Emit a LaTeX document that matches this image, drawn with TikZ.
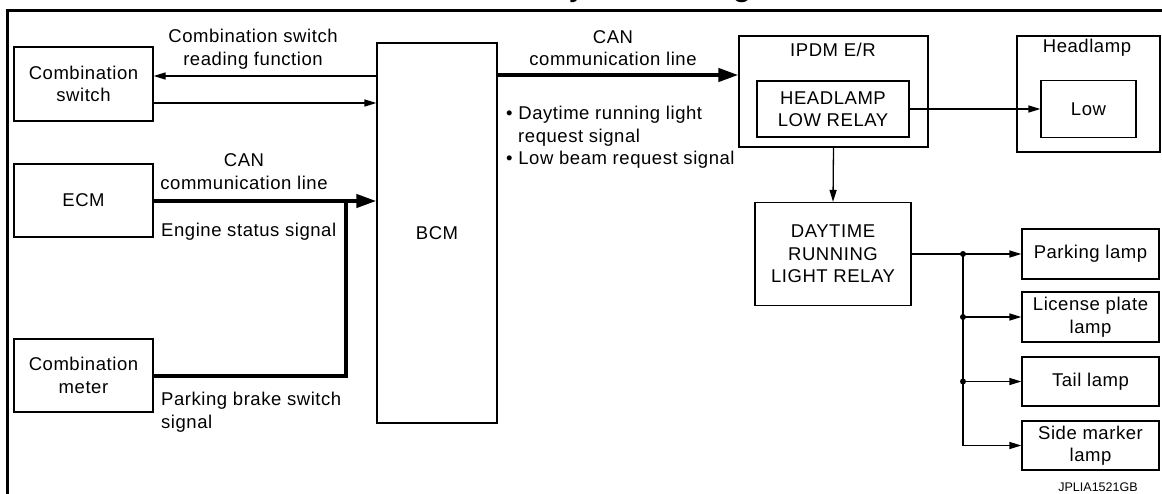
\documentclass[tikz,border=0pt]{standalone}
\usepackage{fontspec}
\setmainfont[LetterSpace=3]{Liberation Sans}
\newfontfamily\plainf{Liberation Sans}
\usetikzlibrary{arrows.meta}
\newcommand{\mfs}{\fontsize{18.5}{22.5}\selectfont}
\begin{document}
\begin{tikzpicture}[x=1pt,y=-1pt,
  box/.style={draw, line width=1.2pt, inner sep=0pt, align=center, font=\mfs},
  lbl/.style={inner sep=0pt, align=center, font=\mfs},
  thinarrow/.style={line width=1.3pt, -{Triangle[length=12pt,width=7pt]}},
  thickarrow/.style={line width=4pt, -{Triangle[length=20pt,width=13pt]}},
  thickline/.style={line width=4pt, line join=miter},
  wire/.style={line width=1.3pt}]
\useasboundingbox (0,0) rectangle (1162,493);
\clip (0,0) rectangle (1162,493);
% frame and cut-off title
\draw[line width=3.2pt] (7.5,495) -- (7.5,10.5) -- (1164,10.5);
\node[anchor=base west, inner sep=0pt, font=\fontsize{34.8}{35}\selectfont] (title) at (545,-4.3) {System Diagram};
% boxes
\node[box, minimum width=139pt, minimum height=74pt] (cs) at (83.5,84) {Combination\\switch};
\node[box, minimum width=139pt, minimum height=73pt] (ecm) at (83.5,200.5) {ECM};
\node[box, minimum width=139pt, minimum height=73pt] (cm) at (83.5,375.5) {Combination\\meter};
\node[box, minimum width=120pt, minimum height=380pt] (bcm) at (437,233) {BCM};
\node[box, minimum width=189pt, minimum height=111pt] (ipdm) at (833.5,91.5) {};
\node[lbl] (ipdmt) at (833,50) {IPDM E/R};
\node[box, minimum width=152pt, minimum height=56pt] (hlr) at (833,109) {HEADLAMP\\LOW RELAY};
\node[box, minimum width=143pt, minimum height=116pt] (hl) at (1088.5,94) {};
\node[lbl] (hlt) at (1087,48) {Headlamp};
\node[box, minimum width=95pt, minimum height=57pt] (low) at (1088.5,109) {Low};
\node[box, minimum width=156pt, minimum height=103pt] (drl) at (833,254) {DAYTIME\\RUNNING\\LIGHT RELAY};
\node[box, minimum width=137pt, minimum height=50pt] (park) at (1090.5,254) {Parking lamp};
\node[box, minimum width=137pt, minimum height=50pt] (lic) at (1090.5,317) {License plate\\lamp};
\node[box, minimum width=137pt, minimum height=49pt] (tail) at (1090.5,381.5) {Tail lamp};
\node[box, minimum width=137pt, minimum height=49pt] (side) at (1090.5,445.5) {Side marker\\lamp};
% labels
\node[lbl] (l1) at (253,49) {Combination switch\\reading function};
\node[lbl] (l2) at (244,171.5) {CAN\\communication line};
\node[lbl, anchor=west] (l3) at (161,232) {Engine status signal};
\node[lbl, anchor=west, align=left] (l4) at (161,412) {Parking brake switch\\signal};
\node[lbl] (l5) at (613,48) {CAN\\communication line};
\node[lbl, anchor=west, align=left] (l6) at (506,137.5) {• Daytime running light\\\hspace*{12pt}request signal\\• Low beam request signal};
\node[inner sep=0pt, font=\plainf\fontsize{12.5}{14}\selectfont] (code) at (1098,487) {JPLIA1521GB};
% connectors
\draw[thinarrow] (bcm.west |- 0,76) -- (cs.east |- 0,76);
\draw[thinarrow] (cs.east |- 0,103) -- (bcm.west |- 0,103);
\draw[thickarrow] (ecm.east |- 0,201) -- (bcm.west |- 0,201);
\coordinate (jc) at (346,201);
\draw[thickline] (cm.east |- 0,376) -| (jc);
\draw[thickarrow] (bcm.east |- 0,75) -- (ipdm.west |- 0,75);
\draw[thinarrow] (hlr.east) -- (low.west);
\draw[thinarrow] (ipdm.south) -- (drl.north);
\coordinate (b1) at (963,254);
\coordinate (b2) at (963,317);
\coordinate (b3) at (963,381.5);
\coordinate (b4) at (963,445.5);
\draw[thinarrow] (drl.east) -- (park.west);
\draw[wire] (b1) -- (b4);
\draw[thinarrow] (b2) -- (lic.west);
\draw[thinarrow] (b3) -- (tail.west);
\draw[thinarrow] (b4) -- (side.west);
\fill (b1) circle (3pt);
\fill (b2) circle (3pt);
\fill (b3) circle (3pt);
\end{tikzpicture}
\end{document}
